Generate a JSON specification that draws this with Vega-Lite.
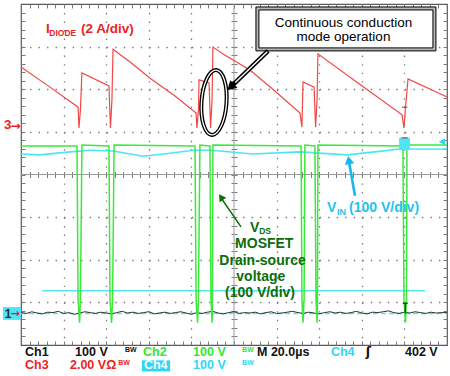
{
  "$schema": "https://vega.github.io/schema/vega-lite/v6.json",
  "width": 426,
  "height": 341,
  "autosize": {"type": "none"},
  "padding": {"left": 21, "top": 4, "right": 3, "bottom": 31},
  "background": "white",
  "config": {
    "view": {"stroke": "#5a5a5a", "strokeWidth": 1.2},
    "text": {"font": "Liberation Sans"},
    "axis": {"labels": false, "domain": false, "title": null, "grid": false, "ticks": true, "tickColor": "#7a7a7a", "tickWidth": 1, "gridColor": "#7a7a7a", "gridWidth": 1.3, "gridDash": [1.4, 7.12]}
  },
  "resolve": {"axis": {"x": "independent", "y": "independent"}},
  "datasets": {
    "center": [{"t": 100, "t2": 100, "v": 0, "v2": 8}, {"t": 0, "t2": 200, "v": 4, "v2": 4}],
    "idiode": [{"t": 0, "v": 6.52}, {"t": 13.6, "v": 6.05}, {"t": 26.8, "v": 5.58}, {"t": 27.2, "v": 5.09}, {"t": 27.9, "v": 5.51}, {"t": 28.6, "v": 6.38}, {"t": 41.3, "v": 6.08}, {"t": 42.0, "v": 5.09}, {"t": 42.7, "v": 5.75}, {"t": 43.2, "v": 6.94}, {"t": 51.2, "v": 6.64}, {"t": 60.6, "v": 6.26}, {"t": 72.3, "v": 5.84}, {"t": 82.2, "v": 5.44}, {"t": 82.6, "v": 5.09}, {"t": 83.3, "v": 5.51}, {"t": 83.6, "v": 6.22}, {"t": 88.3, "v": 6.15}, {"t": 89.0, "v": 5.09}, {"t": 89.7, "v": 5.75}, {"t": 90.1, "v": 6.99}, {"t": 95.8, "v": 6.80}, {"t": 107.5, "v": 6.45}, {"t": 119.2, "v": 5.96}, {"t": 131.0, "v": 5.44}, {"t": 131.9, "v": 5.11}, {"t": 132.4, "v": 6.17}, {"t": 137.6, "v": 6.05}, {"t": 138.3, "v": 5.11}, {"t": 139.0, "v": 5.75}, {"t": 139.4, "v": 6.83}, {"t": 159.2, "v": 6.11}, {"t": 178.9, "v": 5.40}, {"t": 179.8, "v": 5.09}, {"t": 180.5, "v": 5.56}, {"t": 181.7, "v": 6.24}, {"t": 200, "v": 5.82}],
    "vds": [{"t": 0, "v": 4.67}, {"t": 26.3, "v": 4.67}, {"t": 26.8, "v": 1.06}, {"t": 27.5, "v": 0.52}, {"t": 27.9, "v": 1.06}, {"t": 28.6, "v": 4.69}, {"t": 41.3, "v": 4.67}, {"t": 41.8, "v": 1.06}, {"t": 42.5, "v": 0.52}, {"t": 43.0, "v": 1.06}, {"t": 43.7, "v": 4.69}, {"t": 81.7, "v": 4.67}, {"t": 82.2, "v": 1.06}, {"t": 82.9, "v": 0.52}, {"t": 83.3, "v": 1.06}, {"t": 84.0, "v": 4.69}, {"t": 88.7, "v": 4.67}, {"t": 89.2, "v": 1.06}, {"t": 89.7, "v": 0.52}, {"t": 89.9, "v": 1.06}, {"t": 90.1, "v": 4.69}, {"t": 131.5, "v": 4.67}, {"t": 131.9, "v": 1.06}, {"t": 132.4, "v": 0.52}, {"t": 132.9, "v": 1.06}, {"t": 133.3, "v": 4.69}, {"t": 138.0, "v": 4.67}, {"t": 138.5, "v": 1.06}, {"t": 139.0, "v": 0.52}, {"t": 139.2, "v": 1.06}, {"t": 139.4, "v": 4.69}, {"t": 179.3, "v": 4.67}, {"t": 179.8, "v": 1.06}, {"t": 180.5, "v": 0.52}, {"t": 181.0, "v": 1.06}, {"t": 181.2, "v": 4.69}, {"t": 200, "v": 4.69}],
    "vin": [{"t": 0, "v": 4.48}, {"t": 8.9, "v": 4.46}, {"t": 23.0, "v": 4.53}, {"t": 32.4, "v": 4.57}, {"t": 43.2, "v": 4.55}, {"t": 57.3, "v": 4.43}, {"t": 70.0, "v": 4.50}, {"t": 80.8, "v": 4.57}, {"t": 87.3, "v": 4.57}, {"t": 93.4, "v": 4.55}, {"t": 108.9, "v": 4.48}, {"t": 131.0, "v": 4.53}, {"t": 153.1, "v": 4.46}, {"t": 166.2, "v": 4.53}, {"t": 178.0, "v": 4.60}, {"t": 200, "v": 4.60}],
    "ch1": [{"t": 0, "v": 0.76}, {"t": 2.5, "v": 0.74}, {"t": 5, "v": 0.78}, {"t": 7.5, "v": 0.75}, {"t": 10, "v": 0.73}, {"t": 12.5, "v": 0.77}, {"t": 15, "v": 0.76}, {"t": 17.5, "v": 0.79}, {"t": 20, "v": 0.74}, {"t": 22.5, "v": 0.76}, {"t": 25, "v": 0.72}, {"t": 27.5, "v": 0.75}, {"t": 30, "v": 0.78}, {"t": 32.5, "v": 0.76}, {"t": 35, "v": 0.74}, {"t": 37.5, "v": 0.77}, {"t": 40, "v": 0.75}, {"t": 42.5, "v": 0.73}, {"t": 45, "v": 0.76}, {"t": 47.5, "v": 0.79}, {"t": 50, "v": 0.75}, {"t": 52.5, "v": 0.77}, {"t": 55, "v": 0.74}, {"t": 57.5, "v": 0.76}, {"t": 60, "v": 0.78}, {"t": 62.5, "v": 0.73}, {"t": 65, "v": 0.75}, {"t": 67.5, "v": 0.77}, {"t": 70, "v": 0.74}, {"t": 72.5, "v": 0.76}, {"t": 75, "v": 0.78}, {"t": 77.5, "v": 0.75}, {"t": 80, "v": 0.72}, {"t": 82.5, "v": 0.76}, {"t": 85, "v": 0.74}, {"t": 87.5, "v": 0.77}, {"t": 90, "v": 0.79}, {"t": 92.5, "v": 0.75}, {"t": 95, "v": 0.73}, {"t": 97.5, "v": 0.76}, {"t": 100, "v": 0.78}, {"t": 102.5, "v": 0.74}, {"t": 105, "v": 0.76}, {"t": 107.5, "v": 0.75}, {"t": 110, "v": 0.77}, {"t": 112.5, "v": 0.73}, {"t": 115, "v": 0.76}, {"t": 117.5, "v": 0.78}, {"t": 120, "v": 0.74}, {"t": 122.5, "v": 0.75}, {"t": 125, "v": 0.77}, {"t": 127.5, "v": 0.79}, {"t": 130, "v": 0.76}, {"t": 132.5, "v": 0.74}, {"t": 135, "v": 0.77}, {"t": 137.5, "v": 0.75}, {"t": 140, "v": 0.73}, {"t": 142.5, "v": 0.76}, {"t": 145, "v": 0.78}, {"t": 147.5, "v": 0.75}, {"t": 150, "v": 0.77}, {"t": 152.5, "v": 0.74}, {"t": 155, "v": 0.76}, {"t": 157.5, "v": 0.79}, {"t": 160, "v": 0.75}, {"t": 162.5, "v": 0.73}, {"t": 165, "v": 0.77}, {"t": 167.5, "v": 0.76}, {"t": 170, "v": 0.78}, {"t": 172.5, "v": 0.80}, {"t": 175, "v": 0.76}, {"t": 177.5, "v": 0.74}, {"t": 180, "v": 0.77}, {"t": 182.5, "v": 0.75}, {"t": 185, "v": 0.78}, {"t": 187.5, "v": 0.76}, {"t": 190, "v": 0.74}, {"t": 192.5, "v": 0.77}, {"t": 195, "v": 0.75}, {"t": 197.5, "v": 0.76}, {"t": 200, "v": 0.76}]
  },
  "encoding": {
    "x": {"field": "t", "type": "quantitative", "scale": {"domain": [0, 200], "nice": false, "zero": false}, "axis": null},
    "y": {"field": "v", "type": "quantitative", "scale": {"domain": [0, 8], "nice": false, "zero": false}, "axis": null}
  },
  "layer": [
    {"data": {"name": "center"}, "mark": {"type": "rule", "color": "#9a9a9a", "strokeWidth": 1}, "encoding": {"x2": {"field": "t2"}, "y2": {"field": "v2"}}},

    {"data": {"values": [{"t": 9.9, "v": 1.27}, {"t": 189.7, "v": 1.27}]}, "mark": {"type": "line", "color": "#55e6f6", "strokeWidth": 1.5},
     "encoding": {
       "x": {"field": "t", "type": "quantitative", "scale": {"domain": [0, 200], "nice": false, "zero": false}, "axis": {"orient": "bottom", "offset": -170.5, "tickSize": -3, "values": [4, 8, 12, 16, 20, 24, 28, 32, 36, 40, 44, 48, 52, 56, 60, 64, 68, 72, 76, 80, 84, 88, 92, 96, 100, 104, 108, 112, 116, 120, 124, 128, 132, 136, 140, 144, 148, 152, 156, 160, 164, 168, 172, 176, 180, 184, 188, 192, 196]}},
       "y": {"field": "v", "type": "quantitative", "scale": {"domain": [0, 8], "nice": false, "zero": false}, "axis": {"orient": "left", "offset": -213, "tickSize": -3, "values": [0.2, 0.4, 0.6, 0.8, 1, 1.2, 1.4, 1.6, 1.8, 2, 2.2, 2.4, 2.6, 2.8, 3, 3.2, 3.4, 3.6, 3.8, 4, 4.2, 4.4, 4.6, 4.8, 5, 5.2, 5.4, 5.6, 5.8, 6, 6.2, 6.4, 6.6, 6.8, 7, 7.2, 7.4, 7.6, 7.8]}}
     }},
    {"data": {"values": [{"t": 0, "v": 0.74}, {"t": 200, "v": 0.74}]}, "mark": {"type": "line", "color": "#55e6f6", "strokeWidth": 1.5, "strokeDash": [5, 3]},
     "encoding": {
       "x": {"field": "t", "type": "quantitative", "scale": {"domain": [0, 200], "nice": false, "zero": false}, "axis": {"orient": "bottom", "offset": -170.5, "tickSize": 3, "values": [4, 8, 12, 16, 20, 24, 28, 32, 36, 40, 44, 48, 52, 56, 60, 64, 68, 72, 76, 80, 84, 88, 92, 96, 100, 104, 108, 112, 116, 120, 124, 128, 132, 136, 140, 144, 148, 152, 156, 160, 164, 168, 172, 176, 180, 184, 188, 192, 196]}},
       "y": {"field": "v", "type": "quantitative", "scale": {"domain": [0, 8], "nice": false, "zero": false}, "axis": {"orient": "left", "offset": -213, "tickSize": 3, "values": [0.2, 0.4, 0.6, 0.8, 1, 1.2, 1.4, 1.6, 1.8, 2, 2.2, 2.4, 2.6, 2.8, 3, 3.2, 3.4, 3.6, 3.8, 4, 4.2, 4.4, 4.6, 4.8, 5, 5.2, 5.4, 5.6, 5.8, 6, 6.2, 6.4, 6.6, 6.8, 7, 7.2, 7.4, 7.6, 7.8]}}
     }},
    {"data": {"name": "ch1"}, "mark": {"type": "line", "color": "#303030", "strokeWidth": 1},
     "encoding": {
       "x": {"field": "t", "type": "quantitative", "scale": {"domain": [0, 200], "nice": false, "zero": false}, "axis": {"orient": "bottom", "grid": true, "ticks": false, "values": [20, 40, 60, 80, 120, 140, 160, 180]}},
       "y": {"field": "v", "type": "quantitative", "scale": {"domain": [0, 8], "nice": false, "zero": false}, "axis": {"orient": "left", "grid": true, "ticks": false, "values": [1, 2, 3, 5, 6, 7]}}
     }},
    {"data": {"name": "vin"}, "mark": {"type": "line", "color": "#4ee4f6", "strokeWidth": 1.6},
     "encoding": {
       "x": {"field": "t", "type": "quantitative", "scale": {"domain": [0, 200], "nice": false, "zero": false}, "axis": {"orient": "bottom", "tickSize": -4, "values": [4, 8, 12, 16, 20, 24, 28, 32, 36, 40, 44, 48, 52, 56, 60, 64, 68, 72, 76, 80, 84, 88, 92, 96, 100, 104, 108, 112, 116, 120, 124, 128, 132, 136, 140, 144, 148, 152, 156, 160, 164, 168, 172, 176, 180, 184, 188, 192, 196]}},
       "y": {"field": "v", "type": "quantitative", "scale": {"domain": [0, 8], "nice": false, "zero": false}, "axis": {"orient": "left", "tickSize": -4, "values": [0.2, 0.4, 0.6, 0.8, 1, 1.2, 1.4, 1.6, 1.8, 2, 2.2, 2.4, 2.6, 2.8, 3, 3.2, 3.4, 3.6, 3.8, 4, 4.2, 4.4, 4.6, 4.8, 5, 5.2, 5.4, 5.6, 5.8, 6, 6.2, 6.4, 6.6, 6.8, 7, 7.2, 7.4, 7.6, 7.8]}}
     }},
    {"data": {"name": "vds"}, "mark": {"type": "line", "color": "#3ce83c", "strokeWidth": 1.5},
     "encoding": {
       "x": {"field": "t", "type": "quantitative", "scale": {"domain": [0, 200], "nice": false, "zero": false}, "axis": {"orient": "top", "tickSize": -4, "values": [4, 8, 12, 16, 20, 24, 28, 32, 36, 40, 44, 48, 52, 56, 60, 64, 68, 72, 76, 80, 84, 88, 92, 96, 100, 104, 108, 112, 116, 120, 124, 128, 132, 136, 140, 144, 148, 152, 156, 160, 164, 168, 172, 176, 180, 184, 188, 192, 196]}},
       "y": {"field": "v", "type": "quantitative", "scale": {"domain": [0, 8], "nice": false, "zero": false}, "axis": {"orient": "right", "tickSize": -4, "values": [0.2, 0.4, 0.6, 0.8, 1, 1.2, 1.4, 1.6, 1.8, 2, 2.2, 2.4, 2.6, 2.8, 3, 3.2, 3.4, 3.6, 3.8, 4, 4.2, 4.4, 4.6, 4.8, 5, 5.2, 5.4, 5.6, 5.8, 6, 6.2, 6.4, 6.6, 6.8, 7, 7.2, 7.4, 7.6, 7.8]}}
     }},
    {"data": {"name": "idiode"}, "mark": {"type": "line", "color": "#f04848", "strokeWidth": 1.2}},

    {"data": {"values": [{"t": 177.5, "t2": 182.6, "v": 4.57, "v2": 4.86}]}, "mark": {"type": "rect", "color": "#4ee4f6"}, "encoding": {"x2": {"field": "t2"}, "y2": {"field": "v2"}}},
    {"data": {"values": [{"t": 178.9, "t2": 181.4, "v": 5.58, "v2": 5.58}, {"t": 178.6, "t2": 181.6, "v": 4.86, "v2": 4.86}]}, "mark": {"type": "rule", "color": "#e03030", "strokeWidth": 1.2}, "encoding": {"x2": {"field": "t2"}, "y2": {"field": "v2"}}},
    {"data": {"values": [{"t": 179.2, "t2": 181.6, "v": 0.98, "v2": 0.98}, {"t": 180.4, "t2": 180.4, "v": 0.98, "v2": 0.74}]}, "mark": {"type": "rule", "color": "#202020", "strokeWidth": 1.2}, "encoding": {"x2": {"field": "t2"}, "y2": {"field": "v2"}}},
    {"data": {"values": [{"t": 197.6, "v": 4.77}]}, "mark": {"type": "point", "shape": "triangle-left", "filled": true, "size": 50, "color": "#2ed8f4", "opacity": 1}},

    {"data": {"values": [{"t": 110.3, "t2": 194.8, "v": 6.90, "v2": 7.93}]}, "mark": {"type": "rect", "fill": "#b8b8b8", "stroke": "#000000", "strokeWidth": 1}, "encoding": {"x2": {"field": "t2"}, "y2": {"field": "v2"}}},
    {"data": {"values": [{"t": 111.7, "t2": 193.4, "v": 6.97, "v2": 7.86}]}, "mark": {"type": "rect", "fill": "#ffffff", "stroke": "#000000", "strokeWidth": 1}, "encoding": {"x2": {"field": "t2"}, "y2": {"field": "v2"}}},
    {"data": {"values": [{"t": 151.4, "v": 7.47, "label": "Continuous conduction"}, {"t": 151.4, "v": 7.14, "label": "mode operation"}]}, "mark": {"type": "text", "fontSize": 13.5, "color": "#000000", "align": "center", "baseline": "alphabetic"}, "encoding": {"text": {"field": "label"}}},

    {"data": {"values": [{"t": 116.0, "v": 6.90}, {"t": 99.6, "v": 6.11}]}, "mark": {"type": "line", "color": "#000000", "strokeWidth": 4.5}},
    {"data": {"values": [{"t": 115.6, "v": 6.88}, {"t": 100.6, "v": 6.16}]}, "mark": {"type": "line", "color": "#ffffff", "strokeWidth": 1.4}},
    {"data": {"values": [{"t": 98.4, "v": 6.05}]}, "mark": {"type": "point", "shape": "triangle-up", "filled": true, "size": 110, "color": "#000000", "opacity": 1, "angle": 226}},
    {"data": {"values": [{"t": 90.6, "v": 5.69}]}, "mark": {"type": "point", "shape": "M0,-1C0.2126,-1,0.385,-0.5523,0.385,0C0.385,0.5523,0.2126,1,0,1C-0.2126,1,-0.385,0.5523,-0.385,0C-0.385,-0.5523,-0.2126,-1,0,-1Z", "filled": false, "size": 4225, "stroke": "#000000", "strokeWidth": 4, "opacity": 1, "angle": 4}},
    {"data": {"values": [{"t": 90.6, "v": 5.69}]}, "mark": {"type": "point", "shape": "M0,-1C0.2126,-1,0.385,-0.5523,0.385,0C0.385,0.5523,0.2126,1,0,1C-0.2126,1,-0.385,0.5523,-0.385,0C-0.385,-0.5523,-0.2126,-1,0,-1Z", "filled": false, "size": 4225, "stroke": "#ffffff", "strokeWidth": 1.3, "opacity": 1, "angle": 4}},

    {"data": {"values": [{"t": 103.3, "v": 2.77}, {"t": 94.2, "v": 3.43}]}, "mark": {"type": "line", "color": "#0a6e0a", "strokeWidth": 1.5}},
    {"data": {"values": [{"t": 93.9, "v": 3.47}]}, "mark": {"type": "point", "shape": "triangle-up", "filled": true, "size": 64, "color": "#0a6e0a", "opacity": 1, "angle": 326}},
    {"data": {"values": [{"t": 156.8, "v": 3.50}, {"t": 154.0, "v": 4.30}]}, "mark": {"type": "line", "color": "#18b8ec", "strokeWidth": 2.6}},
    {"data": {"values": [{"t": 153.9, "v": 4.34}]}, "mark": {"type": "point", "shape": "triangle-up", "filled": true, "size": 90, "color": "#18b8ec", "opacity": 1, "angle": 350}},

    {"data": {"values": [{"t": 11.7, "v": 7.31, "label": "I"}, {"t": 28.2, "v": 7.31, "label": "(2 A/div)"}, {"t": -8.0, "v": 5.06, "label": "3"}]}, "mark": {"type": "text", "fontSize": 13.5, "fontWeight": "bold", "color": "#f01e1e", "align": "left", "baseline": "alphabetic"}, "encoding": {"text": {"field": "label"}}},
    {"data": {"values": [{"t": 13.3, "v": 7.24, "label": "DIODE"}]}, "mark": {"type": "text", "fontSize": 8.5, "fontWeight": "bold", "color": "#f01e1e", "align": "left", "baseline": "alphabetic"}, "encoding": {"text": {"field": "label"}}},
    {"data": {"values": [{"t": -4.9, "v": 5.05, "label": "→"}]}, "mark": {"type": "text", "fontSize": 12, "fontWeight": "bold", "font": "DejaVu Sans", "color": "#f01e1e", "align": "left", "baseline": "alphabetic"}, "encoding": {"text": {"field": "label"}}},

    {"data": {"values": [{"t": -8.5, "t2": 0, "v": 0.59, "v2": 0.89}]}, "mark": {"type": "rect", "color": "#4ee4f6"}, "encoding": {"x2": {"field": "t2"}, "y2": {"field": "v2"}}},
    {"data": {"values": [{"t": -7.6, "v": 0.63, "label": "1"}]}, "mark": {"type": "text", "fontSize": 12, "fontWeight": "bold", "color": "#303030", "align": "left", "baseline": "alphabetic"}, "encoding": {"text": {"field": "label"}}},
    {"data": {"values": [{"t": -4.9, "v": 0.65, "label": "→"}]}, "mark": {"type": "text", "fontSize": 11, "fontWeight": "bold", "font": "DejaVu Sans", "color": "#e02020", "align": "left", "baseline": "alphabetic"}, "encoding": {"text": {"field": "label"}}},

    {"data": {"values": [{"t": 107.5, "v": 2.65, "label": "V"}]}, "mark": {"type": "text", "fontSize": 14, "fontWeight": "bold", "color": "#0a6e0a", "align": "left", "baseline": "alphabetic"}, "encoding": {"text": {"field": "label"}}},
    {"data": {"values": [{"t": 111.8, "v": 2.6, "label": "DS"}]}, "mark": {"type": "text", "fontSize": 8.5, "fontWeight": "bold", "color": "#0a6e0a", "align": "left", "baseline": "alphabetic"}, "encoding": {"text": {"field": "label"}}},
    {"data": {"values": [{"t": 114.2, "v": 2.27, "label": "MOSFET"}, {"t": 113.4, "v": 1.88, "label": "Drain-source"}, {"t": 112.6, "v": 1.50, "label": "voltage"}, {"t": 112.2, "v": 1.13, "label": "(100 V/div)"}]}, "mark": {"type": "text", "fontSize": 14, "fontWeight": "bold", "color": "#0a6e0a", "align": "center", "baseline": "alphabetic"}, "encoding": {"text": {"field": "label"}}},

    {"data": {"values": [{"t": 143.7, "v": 3.12, "label": "V"}, {"t": 154.0, "v": 3.12, "label": "(100 V/div)"}]}, "mark": {"type": "text", "fontSize": 14, "fontWeight": "bold", "color": "#1ec4f0", "align": "left", "baseline": "alphabetic"}, "encoding": {"text": {"field": "label"}}},
    {"data": {"values": [{"t": 148.3, "v": 3.05, "label": "IN"}]}, "mark": {"type": "text", "fontSize": 9, "fontWeight": "bold", "color": "#1ec4f0", "align": "left", "baseline": "alphabetic"}, "encoding": {"text": {"field": "label"}}},

    {"data": {"values": [{"t": 56.8, "t2": 70.0, "v": -0.36, "v2": -0.62}]}, "mark": {"type": "rect", "color": "#2ed8f4"}, "encoding": {"x2": {"field": "t2"}, "y2": {"field": "v2"}}},
    {"data": {"values": [{"t": 1.9, "v": -0.25, "label": "Ch1"}, {"t": 25.4, "v": -0.25, "label": "100 V"}, {"t": 110.8, "v": -0.25, "label": "M 20.0µs"}, {"t": 180.3, "v": -0.25, "label": "402 V"}]}, "mark": {"type": "text", "fontSize": 12.5, "fontWeight": "bold", "color": "#111111", "align": "left", "baseline": "alphabetic"}, "encoding": {"text": {"field": "label"}}},
    {"data": {"values": [{"t": 161.8, "v": -0.25, "label": "ʃ"}]}, "mark": {"type": "text", "fontSize": 12.5, "fontWeight": "bold", "font": "DejaVu Sans", "color": "#111111", "align": "left", "baseline": "alphabetic"}, "encoding": {"text": {"field": "label"}}},
    {"data": {"values": [{"t": 57.3, "v": -0.25, "label": "Ch2"}, {"t": 80.8, "v": -0.25, "label": "100 V"}]}, "mark": {"type": "text", "fontSize": 12.5, "fontWeight": "bold", "color": "#33e633", "align": "left", "baseline": "alphabetic"}, "encoding": {"text": {"field": "label"}}},
    {"data": {"values": [{"t": 145.5, "v": -0.25, "label": "Ch4"}, {"t": 80.8, "v": -0.555, "label": "100 V"}]}, "mark": {"type": "text", "fontSize": 12.5, "fontWeight": "bold", "color": "#2ed8f4", "align": "left", "baseline": "alphabetic"}, "encoding": {"text": {"field": "label"}}},
    {"data": {"values": [{"t": 1.9, "v": -0.555, "label": "Ch3"}, {"t": 23.0, "v": -0.555, "label": "2.00 VΩ"}]}, "mark": {"type": "text", "fontSize": 12.5, "fontWeight": "bold", "color": "#f01e1e", "align": "left", "baseline": "alphabetic"}, "encoding": {"text": {"field": "label"}}},
    {"data": {"values": [{"t": 57.7, "v": -0.555, "label": "Ch4"}]}, "mark": {"type": "text", "fontSize": 12.5, "fontWeight": "bold", "color": "#ffffff", "align": "left", "baseline": "alphabetic"}, "encoding": {"text": {"field": "label"}}},
    {"data": {"values": [{"t": 48.8, "v": -0.17, "label": "BW"}]}, "mark": {"type": "text", "fontSize": 7, "fontWeight": "bold", "color": "#111111", "align": "left", "baseline": "alphabetic"}, "encoding": {"text": {"field": "label"}}},
    {"data": {"values": [{"t": 103.8, "v": -0.17, "label": "BW"}]}, "mark": {"type": "text", "fontSize": 7, "fontWeight": "bold", "color": "#33e633", "align": "left", "baseline": "alphabetic"}, "encoding": {"text": {"field": "label"}}},
    {"data": {"values": [{"t": 45.6, "v": -0.46, "label": "BW"}]}, "mark": {"type": "text", "fontSize": 7, "fontWeight": "bold", "color": "#f01e1e", "align": "left", "baseline": "alphabetic"}, "encoding": {"text": {"field": "label"}}},
    {"data": {"values": [{"t": 103.8, "v": -0.46, "label": "BW"}]}, "mark": {"type": "text", "fontSize": 7, "fontWeight": "bold", "color": "#2ed8f4", "align": "left", "baseline": "alphabetic"}, "encoding": {"text": {"field": "label"}}}
  ]
}
